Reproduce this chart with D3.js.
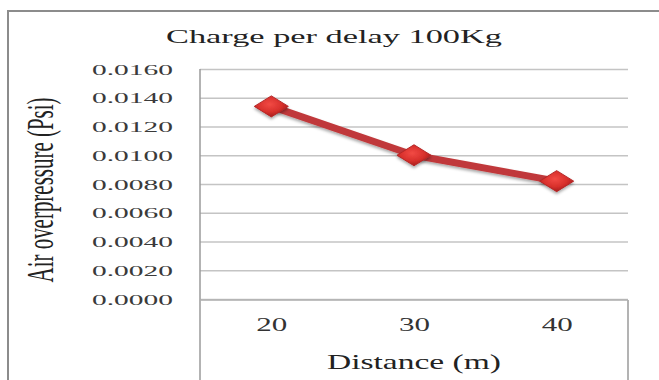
<!DOCTYPE html>
<html>
<head>
<meta charset="utf-8">
<script src="https://cdn.jsdelivr.net/npm/d3@7"></script>
<style>
  html, body { margin: 0; padding: 0; background: #fff; }
  svg { display: block; }
  text { font-family: "Liberation Serif", "Times New Roman", serif; }
</style>
</head>
<body>
<svg id="chart" width="659" height="380"></svg>
<script>
// Air overpressure measured at three distances, 100 kg charge per delay
const distances = [20, 30, 40];
const overpressure = [0.0134, 0.0100, 0.0082];
const yTickValues = [0, 0.002, 0.004, 0.006, 0.008, 0.010, 0.012, 0.014, 0.016];
const chartTitle = "Charge per delay 100Kg";
const xTitle = "Distance (m)";
const yTitle = "Air overpressure (Psi)";

const svg = d3.select("#chart");
const W = 659, H = 380;
const plot = { left: 200, right: 628, top: 69, bottom: 299 };

const x = d3.scalePoint().domain(distances).range([plot.left, plot.right]).padding(0.5);
const y = d3.scaleLinear().domain([0, 0.016]).range([plot.bottom, plot.top]);

// gradients and shadow
const defs = svg.append("defs");
const grad = defs.append("radialGradient").attr("id", "markerFill")
  .attr("cx", "45%").attr("cy", "40%").attr("r", "60%");
grad.append("stop").attr("offset", "0%").attr("stop-color", "#f24a44");
grad.append("stop").attr("offset", "60%").attr("stop-color", "#d8302c");
grad.append("stop").attr("offset", "100%").attr("stop-color", "#a81e1e");
const shadow = defs.append("filter").attr("id", "shadow")
  .attr("x", "-30%").attr("y", "-30%").attr("width", "160%").attr("height", "180%");
shadow.append("feDropShadow").attr("dx", 0).attr("dy", 2).attr("stdDeviation", 1.6)
  .attr("flood-color", "#000").attr("flood-opacity", 0.35);

// outer chart frame (left and top edges)
svg.append("path")
  .attr("d", `M8,${H} L8,11 L${W},11`)
  .attr("fill", "none").attr("stroke", "#8c8c8c").attr("stroke-width", 2);

// horizontal gridlines
const grid = svg.append("g")
  .attr("transform", `translate(${plot.left},0)`)
  .call(d3.axisLeft(y).tickValues(yTickValues).tickSize(-(plot.right - plot.left)).tickFormat(""));
grid.select(".domain").remove();
grid.selectAll(".tick line").attr("stroke", "#c4c4c4").attr("stroke-width", 1.6);

// y tick labels
const yAxis = svg.append("g")
  .attr("transform", `translate(173,0)`)
  .call(d3.axisLeft(y).tickValues(yTickValues).tickSize(0).tickPadding(0).tickFormat(d3.format(".4f")));
yAxis.select(".domain").remove();
yAxis.selectAll(".tick text")
  .attr("font-size", 14).attr("fill", "#3a3a3a")
  .attr("textLength", 81).attr("lengthAdjust", "spacingAndGlyphs")
  .attr("dy", "0.36em");

// plot frame lines
svg.append("line").attr("x1", plot.left).attr("x2", plot.left)
  .attr("y1", plot.top).attr("y2", H)
  .attr("stroke", "#9a9a9a").attr("stroke-width", 1.5);
svg.append("line").attr("x1", plot.right).attr("x2", plot.right)
  .attr("y1", plot.bottom + 1).attr("y2", H)
  .attr("stroke", "#9a9a9a").attr("stroke-width", 1.5);
svg.append("line").attr("x1", plot.left).attr("x2", plot.right)
  .attr("y1", plot.bottom + 1).attr("y2", plot.bottom + 1)
  .attr("stroke", "#b0b0b0").attr("stroke-width", 1.5);

// x tick labels
const xAxis = svg.append("g")
  .attr("transform", `translate(0,${plot.bottom})`)
  .call(d3.axisBottom(x).tickSize(0).tickPadding(0));
xAxis.select(".domain").remove();
xAxis.selectAll(".tick text")
  .attr("font-size", 18).attr("fill", "#333")
  .attr("y", 32).attr("dy", 0)
  .attr("textLength", 31).attr("lengthAdjust", "spacingAndGlyphs");

// title
svg.append("text")
  .attr("x", 334).attr("y", 43)
  .attr("text-anchor", "middle")
  .attr("font-size", 18).attr("fill", "#222")
  .attr("textLength", 336).attr("lengthAdjust", "spacingAndGlyphs")
  .text(chartTitle);

// x axis title
svg.append("text")
  .attr("x", 414).attr("y", 369)
  .attr("text-anchor", "middle")
  .attr("font-size", 21).attr("fill", "#222")
  .attr("textLength", 174).attr("lengthAdjust", "spacingAndGlyphs")
  .text(xTitle);

// y axis title (rotated, glyphs widened horizontally)
svg.append("text")
  .attr("transform", "translate(53,190) scale(1.8,1) rotate(-90)")
  .attr("text-anchor", "middle")
  .attr("font-size", 21).attr("fill", "#222")
  .attr("textLength", 185).attr("lengthAdjust", "spacingAndGlyphs")
  .text(yTitle);

// data line
const pts = distances.map((d, i) => [x(d), y(overpressure[i])]);
svg.append("path")
  .datum(pts)
  .attr("d", d3.line())
  .attr("fill", "none")
  .attr("stroke", "#c0393a")
  .attr("stroke-width", 7)
  .attr("stroke-linejoin", "round")
  .attr("filter", "url(#shadow)");

// diamond markers, wider than tall
const hw = 17, hh = 10.5;
svg.append("g").selectAll("path")
  .data(pts)
  .join("path")
  .attr("d", ([cx, cy]) => `M${cx - hw},${cy} L${cx},${cy - hh} L${cx + hw},${cy} L${cx},${cy + hh} Z`)
  .attr("fill", "url(#markerFill)")
  .attr("stroke", "#b52626").attr("stroke-width", 1)
  .attr("filter", "url(#shadow)");
</script>
</body>
</html>
